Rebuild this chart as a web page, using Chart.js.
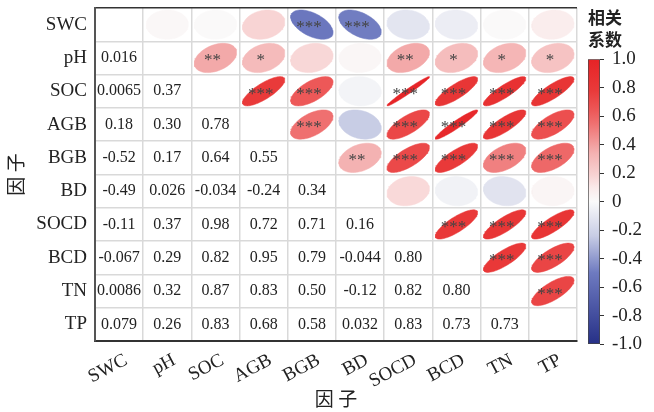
<!DOCTYPE html>
<html><head><meta charset="utf-8">
<script src="https://cdn.jsdelivr.net/npm/chart.js@4"></script>
<style>
html,body{margin:0;padding:0;background:#fff;}
#wrap{position:relative;width:654px;height:412px;overflow:hidden;}
#main{position:absolute;left:0;top:0;}
#bar{position:absolute;left:578px;top:0;}
</style></head><body>
<div id="wrap"><canvas id="main" width="654" height="412"></canvas><canvas id="bar" width="76" height="412"></canvas></div>
<script>
// ---- data ----
const factors = ['SWC','pH','SOC','AGB','BGB','BD','SOCD','BCD','TN','TP'];
// lower triangle: row i holds correlations with columns 0..i-1
const corrLower = [
  [],
  [0.016],
  [0.0065, 0.37],
  [0.18, 0.30, 0.78],
  [-0.52, 0.17, 0.64, 0.55],
  [-0.49, 0.026, -0.034, -0.24, 0.34],
  [-0.11, 0.37, 0.98, 0.72, 0.71, 0.16],
  [-0.067, 0.29, 0.82, 0.95, 0.79, -0.044, 0.80],
  [0.0086, 0.32, 0.87, 0.83, 0.50, -0.12, 0.82, 0.80],
  [0.079, 0.26, 0.83, 0.68, 0.58, 0.032, 0.83, 0.73, 0.73]
];
// upper triangle significance: row i holds columns i+1..9
const sigUpper = [
  ['', '', '', '***', '***', '', '', '', ''],
  ['**', '*', '', '', '**', '*', '*', '*'],
  ['***', '***', '', '***', '***', '***', '***'],
  ['***', '', '***', '***', '***', '***'],
  ['**', '***', '***', '***', '***'],
  ['', '', '', ''],
  ['***', '***', '***'],
  ['***', '***'],
  ['***']
];
const colorbarTicks = [-1, -0.8, -0.6, -0.4, -0.2, 0, 0.2, 0.4, 0.6, 0.8, 1];

// ---- styling ----
const palette = [
  [-1, [38,48,135]], [-0.5, [110,122,192]], [-0.24, [200,205,229]], [-0.1, [229,231,241]],
  [0, [250,250,250]], [0.1, [250,233,233]], [0.18, [248,212,212]], [0.34, [244,178,178]],
  [0.55, [239,112,112]], [0.64, [237,88,88]], [0.78, [233,58,58]], [1, [230,35,38]]
];
function colorFor(v){
  for (let i = 1; i < palette.length; i++){
    if (v <= palette[i][0]){
      const [v0,c0] = palette[i-1], [v1,c1] = palette[i];
      const t = (v - v0) / (v1 - v0);
      const c = c0.map((a,k) => Math.round(a + (c1[k]-a)*t));
      return `rgb(${c[0]},${c[1]},${c[2]})`;
    }
  }
  const c = palette[palette.length-1][1];
  return `rgb(${c[0]},${c[1]},${c[2]})`;
}
const corr = (i, j) => i === j ? 1 : (i > j ? corrLower[i][j] : corrLower[j][i]);

const SERIF = "'Liberation Serif','Times New Roman',serif";
const CJK = "'Noto Sans CJK SC','Noto Sans',sans-serif";
const S = 0.88, N = 72;
function ellipse(r, cx, cy){
  const a = Math.acos(Math.max(-1, Math.min(1, r)));
  const pts = [];
  for (let k = 0; k <= N; k++){
    const t = 2 * Math.PI * k / N;
    pts.push({x: cx + S * Math.cos(t + a/2) / 2, y: cy - S * Math.cos(t - a/2) / 2});
  }
  return pts;
}

const datasets = [];
for (let i = 0; i < factors.length; i++){
  for (let j = i + 1; j < factors.length; j++){
    const r = corr(i, j);
    const col = colorFor(r);
    datasets.push({
      data: ellipse(r, j, i), showLine: true, fill: 'shape', tension: 0,
      backgroundColor: col, borderColor: col, borderWidth: 0.5, pointRadius: 0, pointHoverRadius: 0
    });
  }
}

const cellText = {
  id: 'cellText',
  afterDatasetsDraw(chart){
    const {ctx, scales: {x, y}} = chart;
    ctx.save();
    ctx.textAlign = 'center';
    ctx.textBaseline = 'middle';
    // lower numbers
    ctx.fillStyle = '#222';
    ctx.font = `16px ${SERIF}`;
    for (let i = 0; i < factors.length; i++){
      for (let j = 0; j < i; j++){
        ctx.fillText(corrLower[i][j].toPrecision(2), x.getPixelForValue(j), y.getPixelForValue(i));
      }
    }
    // stars
    ctx.fillStyle = '#444';
    ctx.font = `17px ${SERIF}`;
    for (let i = 0; i < sigUpper.length; i++){
      sigUpper[i].forEach((s, k) => {
        if (!s) return;
        const j = i + 1 + k;
        ctx.fillText(s, x.getPixelForValue(j) - 3, y.getPixelForValue(i) + 3);
      });
    }
    ctx.restore();
  }
};

const gridColor = ctx => (ctx.index === 0 || ctx.index === factors.length) ? '#333' : '#d9d9d9';
const setTicks = s => { s.ticks = factors.map((_, i) => ({value: i})); };

new Chart(document.getElementById('main'), {
  type: 'scatter',
  data: {datasets},
  options: {
    responsive: false, animation: false,
    layout: {padding: {top: 8, right: 77, bottom: 0, left: 0}},
    plugins: {legend: {display: false}, tooltip: {enabled: false}},
    scales: {
      x: {
        type: 'linear', min: -0.5, max: 9.5,
        afterBuildTicks: setTicks,
        afterFit: s => { s.height = 71; s.paddingLeft = 0; s.paddingRight = 0; },
        grid: {offset: true, color: gridColor, lineWidth: 1.5, drawTicks: false},
        border: {color: '#333', width: 2},
        ticks: {
          autoSkip: false, minRotation: 28, maxRotation: 28, padding: 8, labelOffset: 7,
          color: '#222', font: {family: SERIF, size: 19},
          callback: v => factors[v]
        },
        title: {display: true, text: '因 子', color: '#222', font: {family: CJK, size: 19}, padding: {top: 0, bottom: 2}}
      },
      y: {
        type: 'linear', min: -0.5, max: 9.5, reverse: true,
        afterBuildTicks: setTicks,
        afterFit: s => { s.width = 95; s.paddingTop = 0; s.paddingBottom = 0; },
        grid: {offset: true, color: gridColor, lineWidth: 1.5, drawTicks: false},
        border: {color: '#555', width: 2},
        ticks: {
          autoSkip: false, padding: 8,
          color: '#222', font: {family: SERIF, size: 19},
          callback: v => factors[v]
        },
        title: {display: true, text: '因 子', color: '#222', font: {family: CJK, size: 19}, padding: {top: 4, bottom: 0}}
      }
    }
  },
  plugins: [cellText]
});

// ---- colour bar ----
new Chart(document.getElementById('bar'), {
  type: 'bar',
  data: {
    labels: [''],
    datasets: [{
      data: [[colorbarTicks[0], colorbarTicks[colorbarTicks.length - 1]]],
      backgroundColor(ctx){
        const ch = ctx.chart;
        if (!ch.chartArea) return null;
        const ys = ch.scales.y;
        const g = ch.ctx.createLinearGradient(0, ys.getPixelForValue(-1), 0, ys.getPixelForValue(1));
        palette.forEach(([v]) => g.addColorStop((v + 1) / 2, colorFor(v)));
        return g;
      },
      borderColor: '#444', borderWidth: 1, borderSkipped: false,
      barPercentage: 1, categoryPercentage: 1
    }]
  },
  options: {
    responsive: false, animation: false,
    layout: {padding: {top: 0, right: 0, bottom: 68, left: 10}},
    plugins: {
      legend: {display: false}, tooltip: {enabled: false},
      title: {display: true, text: ['相关', '系数'], align: 'start', color: '#222',
        font: {family: CJK, size: 17, weight: 'bold', lineHeight: 1.3}, padding: {top: 6, bottom: 9}}
    },
    scales: {
      x: {display: false},
      y: {
        position: 'right', min: -1, max: 1,
        afterBuildTicks: s => { s.ticks = colorbarTicks.map(v => ({value: v})); },
        afterFit: s => { s.width = 54; },
        grid: {drawOnChartArea: false, tickLength: 4, color: '#333'},
        border: {display: false},
        ticks: {padding: 8, color: '#222', font: {family: SERIF, size: 19},
          callback: v => Math.abs(v) < 1e-9 ? '0' : v.toFixed(1)}
      }
    }
  }
});
</script>
</body></html>
